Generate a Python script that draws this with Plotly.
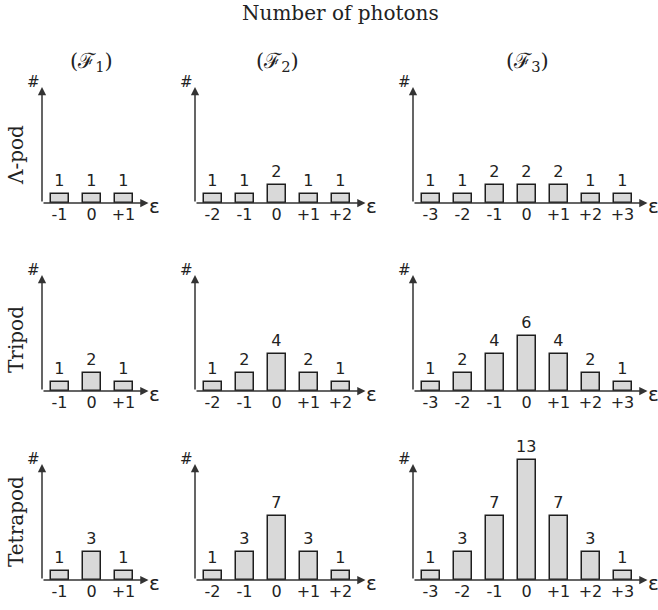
import plotly.graph_objects as go

# ---------------- data ----------------
title_text = "Number of photons"
column_titles = ["(ℱ<sub>1</sub>)", "(ℱ<sub>2</sub>)", "(ℱ<sub>3</sub>)"]
row_titles = ["Λ-pod", "Tripod", "Tetrapod"]

eps_F1 = [-1, 0, 1]
eps_F2 = [-2, -1, 0, 1, 2]
eps_F3 = [-3, -2, -1, 0, 1, 2, 3]

ticks_F1 = ["-1", "0", "+1"]
ticks_F2 = ["-2", "-1", "0", "+1", "+2"]
ticks_F3 = ["-3", "-2", "-1", "0", "+1", "+2", "+3"]

lambda_F1 = [1, 1, 1]
lambda_F2 = [1, 1, 2, 1, 1]
lambda_F3 = [1, 1, 2, 2, 2, 1, 1]

tripod_F1 = [1, 2, 1]
tripod_F2 = [1, 2, 4, 2, 1]
tripod_F3 = [1, 2, 4, 6, 4, 2, 1]

tetrapod_F1 = [1, 3, 1]
tetrapod_F2 = [1, 3, 7, 3, 1]
tetrapod_F3 = [1, 3, 7, 13, 7, 3, 1]

# ---------------- layout geometry (pixels) ----------------
W, H = 658, 610
col_left = [42, 195, 413]
row_axis = [203, 391, 580]
first_off = 17.5
unit_x = 32.0
unit_y = 9.2
arrow_h = 116
panel_top = 135

cols = [(eps_F1, ticks_F1), (eps_F2, ticks_F2), (eps_F3, ticks_F3)]
rows = [
    [lambda_F1, lambda_F2, lambda_F3],
    [tripod_F1, tripod_F2, tripod_F3],
    [tetrapod_F1, tetrapod_F2, tetrapod_F3],
]

SANS = "DejaVu Sans"
SERIF = "DejaVu Serif"
AX = "#333333"
TXT = "#222222"

def px(x):
    return x / W

def py(y):
    return 1 - y / H

fig = go.Figure()
annotations = []
k = 0
for r, row_vals in enumerate(rows):
    for c, (cats, labels) in enumerate(cols):
        k += 1
        vals = row_vals[c]
        xa = "x" if k == 1 else f"x{k}"
        ya = "y" if k == 1 else f"y{k}"
        L = col_left[c]
        n = len(cats)
        x0 = cats[0] - first_off / unit_x
        R = min(W, L + first_off + (n - 1) * unit_x + 40)
        x1 = x0 + (R - L) / unit_x
        yb = row_axis[r]
        yt = yb - panel_top
        ytop = panel_top / unit_y

        fig.add_trace(go.Bar(
            x=cats, y=vals, xaxis=xa, yaxis=ya, width=18 / unit_x,
            marker=dict(color="#d9d9d9", line=dict(color="#1e1e1e", width=1.5)),
            text=[str(v) for v in vals], textposition="outside",
            constraintext="none", cliponaxis=False,
            textfont=dict(family=SANS, size=16, color=TXT),
            showlegend=False, hoverinfo="skip",
        ))
        xkey = "xaxis" if k == 1 else f"xaxis{k}"
        ykey = "yaxis" if k == 1 else f"yaxis{k}"
        fig.layout[xkey] = dict(
            domain=[px(L), px(R)], range=[x0, x1], anchor=ya,
            showgrid=False, zeroline=False, showline=False,
            tickvals=cats, ticktext=labels, ticks="",
            tickfont=dict(family=SANS, size=16, color=TXT), fixedrange=True,
        )
        fig.layout[ykey] = dict(
            domain=[py(yb), py(yt)], range=[0, ytop], anchor=xa,
            visible=False, fixedrange=True,
        )
        tip = cats[-1] + 25 / unit_x
        # x axis arrow
        annotations.append(dict(
            x=tip, y=0, ax=x0, ay=0, xref=xa, yref=ya, axref=xa, ayref=ya,
            text="", showarrow=True, arrowhead=2, arrowsize=1.1,
            arrowwidth=1.5, arrowcolor=AX,
        ))
        # y axis arrow
        annotations.append(dict(
            x=x0, y=arrow_h / unit_y, ax=x0, ay=0, xref=xa, yref=ya,
            axref=xa, ayref=ya, text="", showarrow=True, arrowhead=2,
            arrowsize=1.1, arrowwidth=1.5, arrowcolor=AX,
        ))
        tip_px = L + first_off + (n - 1) * unit_x + 25
        annotations.append(dict(
            x=px(tip_px + 6), y=py(yb + 3), xref="paper", yref="paper",
            text="ε", showarrow=False, xanchor="center", yanchor="middle",
            font=dict(family=SANS, size=20, color=TXT),
        ))
        annotations.append(dict(
            x=px(L - 9), y=py(yb - arrow_h - 5), xref="paper", yref="paper",
            text="#", showarrow=False, xanchor="center", yanchor="middle",
            font=dict(family=SANS, size=15, color=TXT),
        ))

# column titles
title_cx = [91, 277, 527]
for c, t in enumerate(column_titles):
    annotations.append(dict(
        x=px(title_cx[c]), y=py(62), xref="paper", yref="paper", text=t,
        showarrow=False, xanchor="center", yanchor="middle",
        font=dict(family=SERIF, size=21, color=TXT),
    ))

# row titles
row_cy = [155, 340, 522]
for r, t in enumerate(row_titles):
    annotations.append(dict(
        x=px(16), y=py(row_cy[r]), xref="paper", yref="paper", text=t,
        textangle=-90, showarrow=False, xanchor="center", yanchor="middle",
        font=dict(family=SERIF, size=20, color=TXT),
    ))

annotations.append(dict(
    x=px(340), y=py(13), xref="paper", yref="paper", text=title_text,
    showarrow=False, xanchor="center", yanchor="middle",
    font=dict(family=SERIF, size=20, color=TXT),
))

fig.update_layout(
    width=W, height=H, margin=dict(l=0, r=0, t=0, b=0),
    paper_bgcolor="white", plot_bgcolor="white",
    annotations=annotations, bargap=0,
)

fig.write_html("out.html", config={"displayModeBar": False},
               post_script="document.body.style.margin='0';")
